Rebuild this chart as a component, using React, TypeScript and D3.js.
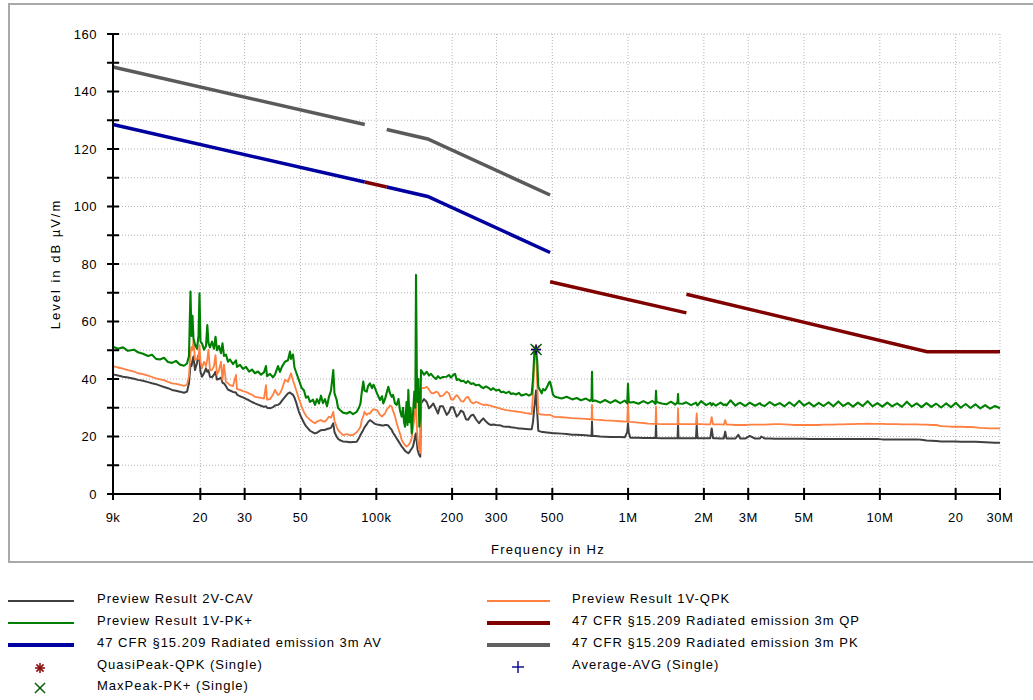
import * as d3 from "d3";

// Frequencies in kHz, levels in dBµV/m.

// first scan, 9 kHz - 150 kHz
const scan1Freq = [
  9.0, 9.42, 9.86, 10.32, 10.91, 11.31, 11.84, 12.4, 12.86, 13.34,
  13.83, 14.35, 14.88, 15.44, 16.01, 16.61, 17.23, 17.71, 18.03, 18.28,
  18.45, 18.62, 18.79, 19.05, 19.4, 19.67, 19.85, 20.03, 20.31, 20.68,
  21.07, 21.32, 21.55, 21.85, 22.25, 22.66, 22.98, 23.29, 23.72, 24.16,
  24.5, 24.83, 25.29, 25.76, 26.23, 26.96, 27.71, 27.97, 28.75, 29.55,
  30.37, 31.21, 32.08, 32.97, 33.89, 34.83, 35.8, 36.46, 36.8, 37.82,
  38.87, 39.59, 40.69, 41.44, 42.21, 43.38, 44.59, 45.41, 45.83, 46.68,
  47.32, 48.19, 49.31, 50.45, 51.61, 52.57, 53.54, 54.52, 56.04, 57.08,
  58.13, 59.2, 60.3, 61.41, 62.54, 63.7, 64.87, 66.07, 67.47, 68.22,
  69.6, 70.44, 71.74, 73.73, 76.27, 78.61, 80.79, 83.58, 85.35, 86.53,
  87.73, 88.78, 89.77, 91.59, 92.69, 94.4, 96.15, 97.47, 98.82, 100.65,
  103.45, 105.35, 106.61, 108.29, 109.78, 111.61, 113.36, 115.14, 116.51, 118.67,
  120.53, 122.53, 124.22, 126.17, 127.68, 128.85, 130.04, 131.83, 133.04, 134.02,
  135.5, 136.74, 138.25, 139.9, 141.57, 142.87, 143.79, 144.85, 145.78, 146.85,
  148.19, 149.5,
];
const scan1PK = [
  51.2, 50.5, 51.0, 49.8, 50.2, 49.3, 48.8, 48.0, 48.4, 47.0,
  46.8, 47.4, 45.9, 45.6, 46.3, 45.0, 44.6, 45.4, 48.0, 70.4,
  55.0, 62.0, 54.0, 52.0, 50.5, 55.0, 69.8, 53.0, 52.4, 50.2,
  51.5, 58.8, 52.5, 51.0, 53.0, 50.5, 54.7, 50.0, 51.5, 49.0,
  52.4, 48.0, 48.5, 46.0, 46.8, 45.2, 46.5, 44.2, 44.9, 43.5,
  44.2, 42.6, 43.3, 42.0, 42.6, 41.5, 42.3, 44.5, 41.0, 41.8,
  40.6, 41.5, 44.5, 42.5, 44.3, 46.0, 46.5, 49.5, 47.0, 48.5,
  44.0, 42.0, 39.5, 37.0, 36.0, 33.5, 34.0, 32.0, 32.8, 31.0,
  33.0, 31.5, 34.2, 31.6, 33.0, 30.5, 33.8, 36.0, 43.1, 35.0,
  32.7, 30.0, 29.2, 28.3, 28.0, 28.6, 27.8, 28.6, 30.0, 31.5,
  36.0, 39.1, 36.0, 35.6, 37.5, 38.5, 36.8, 38.0, 36.8, 35.0,
  32.7, 34.0, 31.5, 33.0, 35.0, 37.3, 35.0, 33.8, 34.5, 31.5,
  31.0, 33.0, 29.0, 26.9, 30.0, 25.0, 23.4, 32.0, 24.0, 36.2,
  25.0, 30.0, 21.1, 28.0, 35.6, 30.0, 76.2, 42.0, 32.0, 40.0,
  23.4, 26.9,
];
const scan1QPK = [
  44.5, 44.0, 43.6, 43.1, 42.6, 42.0, 41.7, 41.2, 40.7, 40.2,
  39.9, 39.6, 39.0, 38.5, 38.3, 38.0, 37.6, 38.0, 41.0, 49.0,
  51.2, 50.0, 53.6, 46.6, 47.2, 47.0, 51.8, 46.0, 43.7, 46.0,
  44.5, 47.0, 50.1, 43.0, 43.2, 44.5, 48.3, 41.5, 43.0, 46.0,
  39.7, 45.0, 39.0, 38.5, 37.9, 37.5, 41.4, 36.5, 36.2, 35.8,
  35.5, 35.0, 34.5, 33.8, 33.6, 33.4, 33.2, 37.9, 32.8, 33.0,
  34.5, 36.2, 34.4, 35.0, 36.5, 39.7, 39.0, 41.0, 42.0, 39.5,
  38.0, 35.8, 33.0, 30.5, 28.5, 27.2, 26.5, 25.8, 25.0, 24.6,
  25.2, 25.5, 25.7, 25.3, 25.2, 26.0, 26.9, 26.5, 28.6, 25.5,
  23.4, 22.3, 21.5, 20.5, 20.8, 20.5, 20.5, 21.5, 22.5, 23.4,
  26.0, 27.0, 28.6, 27.5, 28.0, 28.0, 29.0, 29.5, 29.3, 29.2,
  27.5, 26.9, 27.5, 28.0, 29.2, 30.0, 30.8, 30.4, 29.0, 27.0,
  24.6, 22.5, 21.0, 18.8, 18.0, 17.5, 17.0, 16.5, 16.8, 17.0,
  17.5, 18.2, 19.5, 23.0, 26.0, 30.0, 33.8, 24.0, 19.5, 17.0,
  15.5, 14.2,
];
const scan1CAV = [
  41.6, 41.2, 40.8, 40.5, 40.1, 39.7, 39.4, 38.9, 38.5, 38.2,
  37.7, 37.2, 36.8, 36.2, 35.9, 35.6, 35.2, 35.6, 38.5, 45.0,
  44.5, 46.5, 47.8, 43.1, 45.5, 48.3, 47.0, 42.5, 40.8, 42.0,
  43.7, 42.5, 43.0, 40.8, 40.6, 41.5, 42.5, 39.8, 40.0, 40.5,
  38.7, 38.5, 37.5, 36.3, 36.0, 35.5, 35.3, 34.6, 34.0, 33.6,
  33.1, 32.6, 32.0, 31.5, 31.1, 30.7, 30.3, 30.5, 30.0, 29.8,
  30.2, 30.8, 31.0, 31.5, 32.5, 33.8, 35.0, 35.3, 35.0, 34.5,
  33.5, 31.5, 28.5, 26.5, 24.8, 23.6, 22.8, 22.0, 21.4, 21.1,
  21.3, 21.8, 22.2, 22.3, 22.3, 22.6, 22.8, 23.0, 24.6, 21.5,
  19.9, 19.2, 18.7, 18.3, 18.2, 18.0, 18.1, 18.2, 19.5, 20.5,
  21.5, 22.3, 23.2, 24.2, 25.0, 25.7, 25.2, 24.8, 24.4, 24.2,
  24.0, 23.8, 23.8, 24.0, 24.0, 23.8, 23.0, 22.3, 21.3, 20.3,
  19.3, 18.3, 17.5, 16.5, 16.0, 15.5, 15.0, 14.6, 14.4, 14.2,
  14.6, 15.2, 15.8, 16.5, 18.5, 20.5, 21.1, 18.0, 15.5, 14.5,
  13.5, 13.0,
];

// second scan, 150 kHz - 30 MHz
const scan2Freq = [
  150.5, 154.7, 158.6, 161.9, 164.9, 168.4, 172.6, 175.8, 179.1, 184.0,
  190.4, 194.4, 198.0, 202.2, 205.4, 208.6, 213.0, 217.0, 221.6, 227.1,
  231.3, 237.8, 242.8, 248.9, 255.8, 260.5, 266.1, 272.7, 280.3, 285.5,
  291.5, 298.8, 307.2, 312.8, 319.5, 327.5, 336.6, 342.8, 350.1, 358.8,
  368.8, 375.6, 383.6, 393.2, 404.1, 414.2, 419.1, 424.2, 430.8, 435.9,
  439.9, 446.8, 453.8, 459.3, 467.7, 476.4, 485.2, 489.6, 496.4, 503.2,
  512.5, 545, 570, 600, 625, 650, 680, 705, 716, 719,
  722, 740, 775, 810, 850, 890, 930, 970, 992, 999,
  1006, 1020, 1050, 1100, 1150, 1200, 1250, 1285, 1291, 1297,
  1360, 1420, 1480, 1540, 1572, 1579, 1586, 1650, 1700, 1780,
  1860, 1873, 1886, 1950, 2040, 2120, 2148, 2175, 2230, 2330,
  2400, 2430, 2460, 2550, 2670, 2740, 2790, 2920, 3040, 3190,
  3340, 3380, 3490, 3650, 3820, 4000, 4180, 4370, 4570, 4780,
  5000, 5230, 5470, 5720, 5980, 6250, 6540, 6840, 7150, 7480,
  7820, 8180, 8550, 8940, 9350, 9780, 10230, 10700, 11190, 11700,
  12240, 12800, 13380, 14000, 14640, 15310, 16010, 16740, 17510, 18310,
  19150, 20030, 20950, 21910, 22910, 23960, 25060, 26200, 27400, 28660,
  30000,
];
const scan2PK = [
  43.1, 41.5, 42.5, 41.2, 41.8, 40.8, 40.0, 41.0, 40.2, 40.7,
  40.8, 41.4, 40.5, 41.4, 41.8, 39.7, 39.9, 39.2, 39.4, 38.6,
  39.3, 38.3, 38.5, 37.8, 38.0, 37.3, 36.8, 37.4, 36.8, 36.2,
  36.8, 36.0, 36.3, 35.4, 35.6, 35.1, 35.6, 34.8, 35.0, 34.6,
  35.2, 34.3, 34.4, 34.8, 34.2, 34.8, 40.0, 48.9, 50.3, 46.0,
  37.3, 36.2, 35.0, 36.5, 36.0, 37.2, 38.8, 39.1, 37.0, 34.5,
  33.8, 33.2, 33.8, 32.9, 33.4, 32.6, 33.2, 32.4, 32.9, 42.5,
  32.3, 32.5, 31.8, 32.7, 31.7, 32.6, 31.6, 32.5, 31.5, 38.3,
  32.2, 31.8, 32.0, 31.4, 32.3, 31.5, 32.4, 31.3, 35.9, 32.0,
  31.5, 31.2, 32.1, 31.1, 31.9, 34.8, 31.5, 31.4, 31.9, 30.9,
  31.8, 31.2, 30.8, 32.3, 30.9, 31.7, 30.8, 31.5, 30.7, 31.8,
  30.9, 31.2, 30.8, 32.6, 30.7, 31.5, 31.7, 30.6, 31.8, 30.7,
  31.6, 31.0, 30.6, 32.0, 30.8, 31.6, 30.5, 31.9, 30.6, 32.4,
  30.7, 31.8, 30.5, 31.7, 30.6, 31.9, 30.5, 32.2, 30.6, 31.7,
  30.4, 31.8, 30.6, 32.3, 30.5, 31.6, 30.4, 31.8, 30.5, 31.5,
  30.3, 32.1, 30.4, 31.5, 30.2, 31.6, 30.3, 31.4, 30.1, 31.5,
  30.2, 31.7, 30.0, 31.3, 29.9, 31.2, 29.8, 30.9, 29.7, 30.6,
  29.8,
];
const scan2QPK = [
  36.8, 36.8, 37.3, 36.3, 35.2, 35.0, 35.6, 35.3, 34.0, 34.2,
  35.6, 35.0, 33.0, 32.8, 33.8, 34.4, 33.5, 32.3, 32.1, 33.5,
  33.8, 32.0, 31.5, 32.1, 31.6, 31.3, 31.0, 31.1, 30.8, 30.7,
  30.4, 30.1, 29.9, 29.6, 29.4, 29.2, 29.1, 28.9, 28.8, 28.7,
  28.6, 28.5, 28.3, 28.1, 28.0, 27.8, 35.0, 46.6, 48.9, 38.0,
  28.0, 27.8, 27.6, 27.6, 27.5, 27.5, 27.5, 27.5, 27.3, 27.0,
  26.8, 26.7, 26.6, 26.4, 26.3, 26.2, 26.1, 26.0, 26.0, 31.0,
  26.0, 25.9, 25.8, 25.6, 25.5, 25.4, 25.3, 25.2, 25.2, 32.1,
  25.2, 25.1, 25.0, 24.8, 24.7, 24.5, 24.4, 24.4, 30.4, 24.4,
  24.3, 24.3, 24.3, 24.3, 24.3, 29.8, 24.3, 24.3, 24.3, 24.3,
  24.3, 28.0, 24.3, 24.3, 24.2, 24.2, 26.7, 24.2, 24.2, 24.2,
  24.1, 25.7, 24.1, 24.1, 24.0, 24.0, 24.0, 24.0, 24.1, 24.1,
  24.1, 24.1, 24.1, 24.2, 24.3, 24.3, 24.2, 24.1, 24.0, 24.0,
  24.0, 24.0, 24.0, 24.0, 24.1, 24.1, 24.1, 24.2, 24.2, 24.3,
  24.3, 24.4, 24.4, 24.5, 24.4, 24.4, 24.4, 24.3, 24.3, 24.3,
  24.2, 24.2, 24.2, 24.2, 24.1, 24.1, 24.0, 24.0, 23.6, 23.5,
  23.4, 23.4, 23.4, 23.3, 23.3, 23.2, 23.0, 22.9, 22.8, 22.8,
  22.8,
];
const scan2CAV = [
  31.5, 33.0, 32.0, 29.8, 30.5, 31.5, 29.5, 28.0, 30.5, 30.5,
  27.5, 28.5, 30.2, 30.2, 28.5, 26.9, 27.8, 29.0, 28.5, 26.0,
  25.8, 27.3, 27.6, 26.0, 24.6, 25.5, 26.3, 25.2, 24.3, 24.0,
  24.2, 24.0, 23.9, 23.8, 23.5, 23.4, 23.4, 23.2, 23.1, 23.0,
  22.8, 22.8, 22.7, 22.6, 22.5, 22.5, 25.0, 30.0, 36.0, 28.0,
  22.0, 21.8, 21.6, 21.6, 21.5, 21.4, 21.3, 21.3, 21.2, 21.1,
  21.1, 21.0, 20.9, 20.6, 20.6, 20.5, 20.4, 20.3, 20.2, 25.2,
  20.2, 20.2, 20.0, 19.9, 19.8, 19.8, 19.8, 19.7, 21.5, 24.6,
  21.5, 19.6, 19.6, 19.6, 19.5, 19.5, 19.5, 19.5, 24.0, 19.5,
  19.4, 19.4, 19.4, 19.4, 19.4, 24.0, 19.4, 19.4, 19.4, 19.4,
  19.4, 24.0, 19.4, 19.4, 19.4, 19.4, 22.8, 19.4, 19.4, 19.3,
  19.3, 21.7, 19.3, 19.3, 19.3, 20.6, 19.3, 19.3, 20.2, 19.3,
  19.3, 20.0, 19.3, 19.3, 19.2, 19.2, 19.2, 19.2, 19.2, 19.2,
  19.2, 19.1, 19.1, 19.1, 19.1, 19.1, 19.1, 19.1, 19.1, 19.1,
  19.1, 19.1, 19.1, 19.1, 19.1, 19.1, 19.0, 19.0, 19.0, 19.0,
  19.0, 19.0, 19.0, 19.0, 18.9, 18.6, 18.5, 18.4, 18.3, 18.3,
  18.3, 18.3, 18.2, 18.2, 18.2, 18.2, 18.1, 18.0, 17.9, 17.8,
  17.8,
];

// 47 CFR §15.209 limit lines, each one a list of segments of [kHz, dB] points
const avLimit: [number, number][][] = [
  [[9, 128.5], [90, 108.5]],
  [[110, 106.8], [160, 103.5], [490, 84.0]],
];
const qpLimit: [number, number][][] = [
  [[90, 108.5], [110, 106.8]],
  [[490, 73.8], [1705, 63.0]],
  [[1705, 69.5], [15400, 49.5], [30000, 49.5]],
];
const pkLimit: [number, number][][] = [
  [[9, 148.5], [90, 128.5]],
  [[110, 126.8], [160, 123.5], [490, 104.0]],
];

// final measurement at the 431 kHz emission
const finalFreq = 431;
const finalQPK = 50.3;
const finalPK = 50.3;
const finalAVG = 50.2;

const xTicks = [9, 20, 30, 50, 100, 200, 300, 500, 1000, 2000, 3000, 5000, 10000, 20000, 30000];
const xTickLabels = ["9k", "20", "30", "50", "100k", "200", "300", "500", "1M", "2M", "3M", "5M", "10M", "20", "30M"];
const yTicks = [0, 10, 20, 30, 40, 50, 60, 70, 80, 90, 100, 110, 120, 130, 140, 150, 160];
const yLabelTicks = [0, 20, 40, 60, 80, 100, 120, 140, 160];

const legendLeft = [
  "Preview Result 2V-CAV",
  "Preview Result 1V-PK+",
  "47 CFR §15.209 Radiated emission 3m AV",
  "QuasiPeak-QPK (Single)",
  "MaxPeak-PK+ (Single)",
];
const legendRight = [
  "Preview Result 1V-QPK",
  "47 CFR §15.209 Radiated emission 3m QP",
  "47 CFR §15.209 Radiated emission 3m PK",
  "Average-AVG (Single)",
];

const FONT = "'Liberation Sans', Arial, sans-serif";
const C_CAV = "#404040";
const C_PK = "#008000";
const C_QPK = "#ff8040";
const C_AV_LIM = "#0000a0";
const C_QP_LIM = "#800000";
const C_PK_LIM = "#5a5a5a";

function Star({ cx, cy, r, color }: { cx: number; cy: number; r: number; color: string }) {
  const d = r * 0.72;
  return (
    <g stroke={color} strokeWidth={1.6}>
      <line x1={cx} y1={cy - r} x2={cx} y2={cy + r} />
      <line x1={cx - r} y1={cy} x2={cx + r} y2={cy} />
      <line x1={cx - d} y1={cy - d} x2={cx + d} y2={cy + d} />
      <line x1={cx - d} y1={cy + d} x2={cx + d} y2={cy - d} />
    </g>
  );
}

function Cross({ cx, cy, r, color }: { cx: number; cy: number; r: number; color: string }) {
  return (
    <g stroke={color} strokeWidth={1.4}>
      <line x1={cx - r} y1={cy - r} x2={cx + r} y2={cy + r} />
      <line x1={cx - r} y1={cy + r} x2={cx + r} y2={cy - r} />
    </g>
  );
}

function Plus({ cx, cy, r, color }: { cx: number; cy: number; r: number; color: string }) {
  return (
    <g stroke={color} strokeWidth={1.4}>
      <line x1={cx} y1={cy - r} x2={cx} y2={cy + r} />
      <line x1={cx - r} y1={cy} x2={cx + r} y2={cy} />
    </g>
  );
}

export default function App() {
  const width = 1033;
  const height = 700;
  const plot = { left: 113, right: 1000, top: 34, bottom: 494 };

  const x = d3.scaleLog().domain([9, 30000]).range([plot.left, plot.right]);
  const y = d3.scaleLinear().domain([0, 160]).range([plot.bottom, plot.top]);

  const line = d3
    .line<[number, number]>()
    .defined((d) => d[1] !== undefined)
    .x((d) => x(d[0]))
    .y((d) => y(d[1]));

  const allFreq = [...scan1Freq, ...scan2Freq];
  const zip = (vals: number[]) => allFreq.map((f, i) => [f, vals[i]] as [number, number]);
  const cavPath = line(zip([...scan1CAV, ...scan2CAV])) ?? "";
  const qpkPath = line(zip([...scan1QPK, ...scan2QPK])) ?? "";
  const pkPath = line(zip([...scan1PK, ...scan2PK])) ?? "";

  const mx = x(finalFreq);

  const rowsY = [603, 625, 647, 669, 690];

  return (
    <svg
      width={width}
      height={height}
      style={{ position: "absolute", left: 0, top: 0, background: "#fff" }}
      fontFamily={FONT}
    >
      <rect x={0} y={0} width={width} height={height} fill="#fff" />
      {/* outer frame */}
      <rect x={9} y={4} width={1032} height={558} fill="none" stroke="#a9a9a9" strokeWidth={2} />

      {/* grid */}
      <g stroke="#b4b4b4" strokeWidth={1} strokeDasharray="1 2">
        {yTicks.slice(1).map((t) => (
          <line key={"gy" + t} x1={plot.left} x2={plot.right} y1={y(t)} y2={y(t)} />
        ))}
        {xTicks.slice(1).map((t) => (
          <line key={"gx" + t} x1={x(t)} x2={x(t)} y1={plot.top} y2={plot.bottom} />
        ))}
      </g>

      {/* measured traces */}
      <path d={cavPath} fill="none" stroke={C_CAV} strokeWidth={2} strokeLinejoin="round" />
      <path d={qpkPath} fill="none" stroke={C_QPK} strokeWidth={1.8} strokeLinejoin="round" />
      <path d={pkPath} fill="none" stroke={C_PK} strokeWidth={2.1} strokeLinejoin="round" />

      {/* limits */}
      {avLimit.map((seg, i) => (
        <path key={"av" + i} d={line(seg) ?? ""} fill="none" stroke={C_AV_LIM} strokeWidth={3.5} />
      ))}
      {pkLimit.map((seg, i) => (
        <path key={"pk" + i} d={line(seg) ?? ""} fill="none" stroke={C_PK_LIM} strokeWidth={3.5} />
      ))}
      {qpLimit.map((seg, i) => (
        <path key={"qp" + i} d={line(seg) ?? ""} fill="none" stroke={C_QP_LIM} strokeWidth={3.5} />
      ))}

      {/* final measurement markers */}
      <Star cx={mx} cy={y(finalQPK)} r={5} color="#8b1010" />
      <Plus cx={mx} cy={y(finalAVG)} r={5} color="#000090" />
      <Cross cx={mx} cy={y(finalPK)} r={5.5} color="#005a00" />

      {/* axes */}
      <g stroke="#000" strokeWidth={2}>
        <line x1={plot.left} x2={plot.left} y1={plot.top - 1} y2={plot.bottom + 1} />
        <line x1={plot.left - 1} x2={plot.right + 1} y1={plot.bottom} y2={plot.bottom} />
        {yTicks.map((t) => (
          <line key={"ty" + t} x1={plot.left - 6} x2={plot.left + 6} y1={y(t)} y2={y(t)} />
        ))}
        {xTicks.map((t) => (
          <line key={"tx" + t} x1={x(t)} x2={x(t)} y1={plot.bottom - 6} y2={plot.bottom + 6} />
        ))}
      </g>

      <g fontSize={13} fill="#000" style={{ letterSpacing: "0.5px" }}>
        {yLabelTicks.map((t) => (
          <text key={"ly" + t} x={97} y={y(t) + 4.5} textAnchor="end">
            {t}
          </text>
        ))}
        {xTicks.map((t, i) => (
          <text key={"lx" + t} x={x(t)} y={522} textAnchor="middle">
            {xTickLabels[i]}
          </text>
        ))}
      </g>

      <text
        x={548}
        y={554}
        textAnchor="middle"
        fontSize={13}
        style={{ letterSpacing: "1.3px" }}
      >
        Frequency in Hz
      </text>
      <text
        transform={`translate(60, ${(plot.top + plot.bottom) / 2}) rotate(-90)`}
        textAnchor="middle"
        fontSize={13}
        style={{ letterSpacing: "2px" }}
      >
        Level in dB µV/m
      </text>

      {/* legend */}
      <g fontSize={13} style={{ letterSpacing: "1px" }}>
        <line x1={8} x2={74} y1={rowsY[0] - 2} y2={rowsY[0] - 2} stroke={C_CAV} strokeWidth={1.8} />
        <line x1={8} x2={74} y1={rowsY[1] - 2} y2={rowsY[1] - 2} stroke={C_PK} strokeWidth={1.8} />
        <line x1={8} x2={74} y1={rowsY[2] - 2} y2={rowsY[2] - 2} stroke={C_AV_LIM} strokeWidth={4} />
        <Star cx={40} cy={rowsY[3] - 1} r={5} color="#8b1010" />
        <Cross cx={40} cy={rowsY[4] - 2} r={5} color="#005a00" />
        {legendLeft.map((s, i) => (
          <text key={"ll" + i} x={97} y={rowsY[i]}>
            {s}
          </text>
        ))}

        <line x1={487} x2={550} y1={rowsY[0] - 2} y2={rowsY[0] - 2} stroke={C_QPK} strokeWidth={1.8} />
        <line x1={487} x2={550} y1={rowsY[1] - 2} y2={rowsY[1] - 2} stroke={C_QP_LIM} strokeWidth={4} />
        <line x1={487} x2={550} y1={rowsY[2] - 2} y2={rowsY[2] - 2} stroke="#606060" strokeWidth={4} />
        <Plus cx={518} cy={rowsY[3] - 2} r={6} color="#000090" />
        {legendRight.map((s, i) => (
          <text key={"lr" + i} x={572} y={rowsY[i]}>
            {s}
          </text>
        ))}
      </g>
    </svg>
  );
}
